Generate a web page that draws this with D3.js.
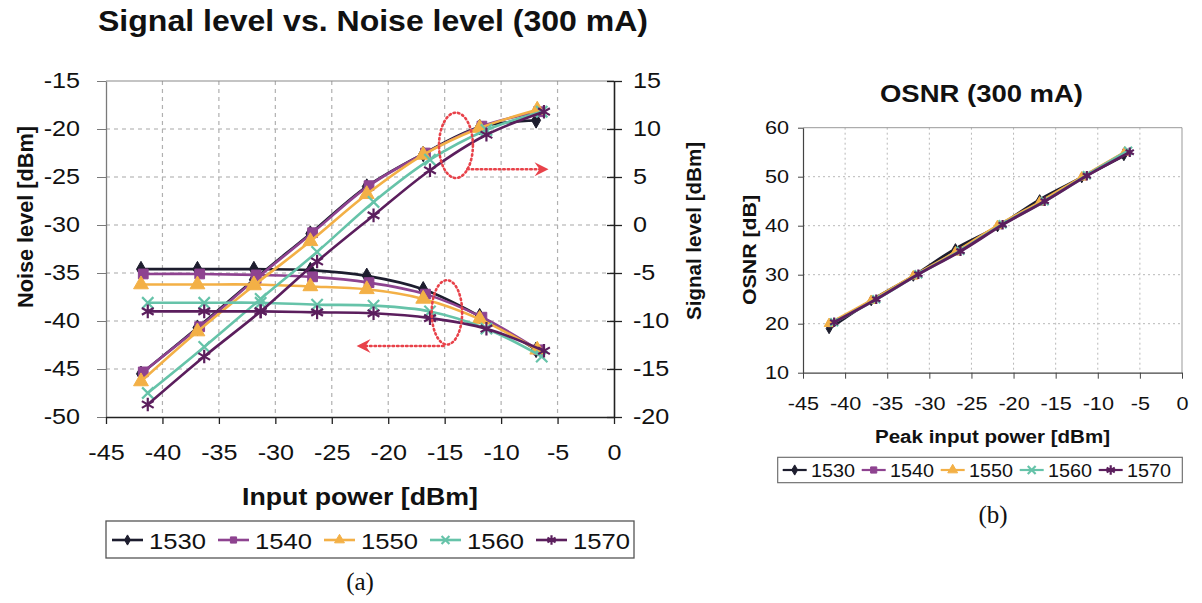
<!DOCTYPE html>
<html><head><meta charset="utf-8">
<script src="https://cdn.jsdelivr.net/npm/d3@7"></script>
<style>body{margin:0;background:#fff} svg{display:block}</style>
</head><body>
<svg id="c" width="1202" height="603"></svg>
<script>
// ---------------- DATA ----------------
const categories = ["1530", "1540", "1550", "1560", "1570"];
const colors = ["#1d1d2e", "#8e4390", "#f3b046", "#66c3a9", "#5b1e5d"];

const power1530 = [-41.9, -36.9, -31.9, -26.9, -21.9, -16.9, -11.9, -6.9];
const power1540 = [-41.7, -36.7, -31.7, -26.7, -21.7, -16.7, -11.7, -6.7];
const power1550 = [-41.9, -36.9, -31.9, -26.9, -21.9, -16.9, -11.9, -6.8];
const power1560 = [-41.3, -36.3, -31.3, -26.3, -21.3, -16.3, -11.3, -6.4];
const power1570 = [-41.3, -36.3, -31.3, -26.3, -21.3, -16.3, -11.3, -6.2];

const noise1530 = [-34.6, -34.6, -34.6, -34.7, -35.3, -36.7, -39.5, -43.0];
const noise1540 = [-35.1, -35.1, -35.2, -35.4, -36.0, -37.2, -39.6, -43.0];
const noise1550 = [-36.2, -36.2, -36.2, -36.4, -36.7, -37.7, -39.8, -43.0];
const noise1560 = [-38.1, -38.1, -38.1, -38.3, -38.4, -39.0, -40.8, -43.7];
const noise1570 = [-39.0, -39.0, -39.0, -39.1, -39.2, -39.7, -40.8, -43.1];

const signal1530 = [-15.5, -10.7, -5.7, -0.9, 4.0, 7.4, 10.2, 10.9];
const signal1540 = [-15.3, -10.6, -5.6, -0.8, 4.1, 7.5, 10.3, 11.8];
const signal1550 = [-16.3, -11.1, -6.3, -1.7, 3.2, 7.3, 10.1, 12.0];
const signal1560 = [-17.5, -12.7, -7.7, -2.8, 2.4, 6.8, 9.9, 11.8];
const signal1570 = [-18.7, -13.7, -9.0, -3.8, 1.0, 5.7, 9.4, 11.8];

const osnr1530 = [19.0, 24.7, 29.7, 35.3, 39.8, 45.3, 49.8, 54.3];
const osnr1540 = [20.0, 24.8, 29.8, 34.7, 40.0, 44.8, 50.0, 55.0];
const osnr1550 = [20.0, 24.7, 29.7, 34.6, 40.0, 44.8, 49.9, 55.0];
const osnr1560 = [20.3, 25.0, 30.1, 34.9, 40.3, 45.0, 50.3, 55.3];
const osnr1570 = [20.3, 25.0, 30.1, 34.8, 40.2, 45.0, 50.2, 55.0];

const xTicks = [-45, -40, -35, -30, -25, -20, -15, -10, -5, 0];
const noiseTicks = [-50, -45, -40, -35, -30, -25, -20, -15];
const signalTicks = [-20, -15, -10, -5, 0, 5, 10, 15];
const osnrTicks = [10, 20, 30, 40, 50, 60];

// annotation callouts (data coordinates): ellipse centre x, y, radii, arrow from x to x at y
const signalCallout = [-14.0, 8.3, 1.5, 3.4, -13.0, -5.8, 5.8];
const noiseCallout = [-14.8, -39.1, 1.35, 3.35, -15.1, -22.8, -42.6];

// ---------------- SETUP ----------------
const powers = [power1530, power1540, power1550, power1560, power1570];
const noises = [noise1530, noise1540, noise1550, noise1560, noise1570];
const signals = [signal1530, signal1540, signal1550, signal1560, signal1570];
const osnrs = [osnr1530, osnr1540, osnr1550, osnr1560, osnr1570];
const symTypes = [d3.symbolDiamond, d3.symbolSquare, d3.symbolTriangle, d3.symbolTimes, d3.symbolAsterisk];
const symFilled = [true, true, true, false, false];

const series = categories.map((c, i) => ({
  name: c, color: colors[i], sym: symTypes[i], filled: symFilled[i],
  noise: powers[i].map((p, j) => [p, noises[i][j]]),
  signal: powers[i].map((p, j) => [p, signals[i][j]]),
  osnr: powers[i].map((p, j) => [p, osnrs[i][j]])
}));

const FONT = "'Liberation Sans', Arial, Helvetica, sans-serif";
const SERIF = "'Liberation Serif', 'DejaVu Serif', serif";
const fmt = d => String(d);
const svg = d3.select("#c");
svg.append("rect").attr("width", 1202).attr("height", 603).attr("fill", "#fff");

function stretch(sel, sx) {
  sel.each(function () {
    const t = d3.select(this);
    const x = +t.attr("x") || 0;
    t.attr("x", x / sx).attr("transform", `scale(${sx},1)`);
  });
}
function symSize(i, big) {
  const s = big ? [70, 95, 95, 85, 130] : [30, 38, 42, 42, 62];
  return s[i];
}
function drawMarker(g, i, x, y, big) {
  const s = series[i];
  g.append("path")
    .attr("transform", `translate(${x},${y})`)
    .attr("d", d3.symbol().type(s.sym).size(symSize(i, big))())
    .attr("fill", s.filled ? s.color : "none")
    .attr("stroke", s.color)
    .attr("stroke-width", s.filled ? 1 : 2.2);
}

// ================= CHART (a) =================
const xA = d3.scaleLinear().domain([-45, 0]).range([106, 614]);
const yN = d3.scaleLinear().domain([-50, -15]).range([417, 81]);
const yS = d3.scaleLinear().domain([-20, 15]).range([417, 81]);

const gA = svg.append("g");
gA.append("g").selectAll("line").data(noiseTicks.filter(v => v > -50 && v < -15)).join("line")
  .attr("x1", xA(-45)).attr("x2", xA(0)).attr("y1", d => yN(d)).attr("y2", d => yN(d))
  .attr("stroke", "#a8a8a8").attr("stroke-width", 1.2).attr("stroke-dasharray", "4,4");
gA.append("g").selectAll("line").data(xTicks.filter(v => v > -45 && v < 0)).join("line")
  .attr("x1", d => xA(d)).attr("x2", d => xA(d)).attr("y1", yN(-15)).attr("y2", yN(-50))
  .attr("stroke", "#b0b0b0").attr("stroke-width", 1.2).attr("stroke-dasharray", "4,4");
gA.append("line").attr("x1", xA(-45)).attr("x2", xA(0)).attr("y1", yN(-15)).attr("y2", yN(-15))
  .attr("stroke", "#8a8a8a").attr("stroke-width", 1.2);

const axL = gA.append("g").attr("transform", `translate(${xA(-45)},0)`)
  .call(d3.axisLeft(yN).tickValues(noiseTicks).tickSize(9).tickPadding(17).tickSizeOuter(0).tickFormat(fmt));
axL.select(".domain").attr("stroke", "#7a7a7a").attr("stroke-width", 1.3);
axL.selectAll(".tick line").attr("stroke", "#7a7a7a");
axL.selectAll("text").attr("font-family", FONT).attr("font-size", 21.5).attr("fill", "#111");
stretch(axL.selectAll("text"), 1.17);

const axR = gA.append("g").attr("transform", `translate(${xA(0)},0)`)
  .call(d3.axisRight(yS).tickValues(signalTicks).tickSize(8).tickPadding(11).tickSizeOuter(0).tickFormat(fmt));
axR.select(".domain").attr("stroke", "#222").attr("stroke-width", 1.6);
axR.selectAll(".tick line").attr("x1", -7).attr("x2", 8).attr("stroke", "#222").attr("stroke-width", 1.3);
axR.selectAll("text").attr("font-family", FONT).attr("font-size", 21.5).attr("fill", "#111");
stretch(axR.selectAll("text"), 1.17);

const axB = gA.append("g").attr("transform", `translate(0,${yN(-50)})`)
  .call(d3.axisBottom(xA).tickValues(xTicks).tickSize(7).tickPadding(21).tickSizeOuter(0).tickFormat(fmt));
axB.select(".domain").attr("stroke", "#222").attr("stroke-width", 1.6);
axB.selectAll(".tick line").attr("stroke", "#222").attr("stroke-width", 1.3);
axB.selectAll("text").attr("font-family", FONT).attr("font-size", 21.5).attr("fill", "#111");
stretch(axB.selectAll("text"), 1.17);

const lineN = d3.line().x(d => xA(d[0])).y(d => yN(d[1])).curve(d3.curveCatmullRom.alpha(0.5));
const lineS = d3.line().x(d => xA(d[0])).y(d => yS(d[1])).curve(d3.curveCatmullRom.alpha(0.5));
series.forEach((s, i) => {
  const g = gA.append("g");
  g.append("path").attr("d", lineN(s.noise)).attr("fill", "none").attr("stroke", s.color).attr("stroke-width", 2.6);
  g.append("path").attr("d", lineS(s.signal)).attr("fill", "none").attr("stroke", s.color).attr("stroke-width", 2.6);
  s.noise.forEach(d => drawMarker(g, i, xA(d[0]), yN(d[1]), true));
  s.signal.forEach(d => drawMarker(g, i, xA(d[0]), yS(d[1]), true));
});

const red = "#e8424a";
function callout(c, yScale, dir) {
  const [cx, cy, rx, ry, ax1, ax2, ay] = c;
  const pxr = Math.abs(xA(cx + rx) - xA(cx));
  const pyr = Math.abs(yScale(cy + ry) - yScale(cy));
  gA.append("ellipse").attr("cx", xA(cx)).attr("cy", yScale(cy)).attr("rx", pxr).attr("ry", pyr)
    .attr("fill", "none").attr("stroke", red).attr("stroke-width", 2.6).attr("stroke-dasharray", "1.5,3")
    .attr("stroke-linecap", "round");
  const x1 = xA(ax1), x2 = xA(ax2), y = yScale(ay);
  gA.append("line").attr("x1", x1).attr("x2", x2 - dir * 8).attr("y1", y).attr("y2", y)
    .attr("stroke", red).attr("stroke-width", 2.6).attr("stroke-dasharray", "1.5,3").attr("stroke-linecap", "round");
  gA.append("path")
    .attr("d", `M${x2},${y} L${x2 - dir * 14},${y - 7} L${x2 - dir * 9},${y} L${x2 - dir * 14},${y + 7} Z`)
    .attr("fill", red);
}
callout(signalCallout, yS, 1);
callout(noiseCallout, yN, -1);

gA.append("text").attr("x", 98).attr("y", 31).attr("font-family", FONT).attr("font-weight", "bold")
  .attr("font-size", 29).attr("fill", "#111").attr("textLength", 550).attr("lengthAdjust", "spacingAndGlyphs")
  .text("Signal level vs. Noise level (300 mA)");
gA.append("text").attr("transform", "translate(33,217) rotate(-90)").attr("text-anchor", "middle")
  .attr("font-family", FONT).attr("font-weight", "bold").attr("font-size", 22).attr("fill", "#111")
  .attr("textLength", 182).attr("lengthAdjust", "spacingAndGlyphs").text("Noise level [dBm]");
gA.append("text").attr("transform", "translate(701,231) rotate(-90)").attr("text-anchor", "middle")
  .attr("font-family", FONT).attr("font-weight", "bold").attr("font-size", 20).attr("fill", "#111")
  .attr("textLength", 178).attr("lengthAdjust", "spacingAndGlyphs").text("Signal level [dBm]");
gA.append("text").attr("x", 360).attr("y", 505).attr("text-anchor", "middle")
  .attr("font-family", FONT).attr("font-weight", "bold").attr("font-size", 23).attr("fill", "#111")
  .attr("textLength", 236).attr("lengthAdjust", "spacingAndGlyphs").text("Input power [dBm]");

const legA = gA.append("g");
legA.append("rect").attr("x", 106).attr("y", 521).attr("width", 528).attr("height", 37)
  .attr("fill", "#fff").attr("stroke", "#555").attr("stroke-width", 1.3);
series.forEach((s, i) => {
  const x0 = 112 + i * 106;
  legA.append("line").attr("x1", x0).attr("x2", x0 + 31).attr("y1", 540).attr("y2", 540)
    .attr("stroke", s.color).attr("stroke-width", 2.6);
  drawMarker(legA, i, x0 + 15.5, 540, false);
  legA.append("text").attr("x", x0 + 37).attr("y", 549).attr("font-family", FONT).attr("font-size", 22)
    .attr("fill", "#111").attr("textLength", 57).attr("lengthAdjust", "spacingAndGlyphs").text(s.name);
});
gA.append("text").attr("x", 360).attr("y", 590).attr("text-anchor", "middle")
  .attr("font-family", SERIF).attr("font-size", 25).attr("fill", "#111").text("(a)");

// ================= CHART (b) =================
const xB = d3.scaleLinear().domain([-45, 0]).range([803, 1182]);
const yO = d3.scaleLinear().domain([10, 60]).range([372.7, 127.7]);
const gB = svg.append("g");

gB.append("g").selectAll("line").data(osnrTicks.filter(v => v > 10 && v < 60)).join("line")
  .attr("x1", xB(-45)).attr("x2", xB(0)).attr("y1", d => yO(d)).attr("y2", d => yO(d))
  .attr("stroke", "#b8b8b8").attr("stroke-width", 1).attr("stroke-dasharray", "2,3");
gB.append("g").selectAll("line").data(xTicks.filter(v => v > -45 && v < 0)).join("line")
  .attr("x1", d => xB(d)).attr("x2", d => xB(d)).attr("y1", yO(60)).attr("y2", yO(10))
  .attr("stroke", "#b8b8b8").attr("stroke-width", 1).attr("stroke-dasharray", "2,3");
gB.append("path").attr("d", `M${xB(-45)},${yO(60)} H${xB(0)} V${yO(10)}`)
  .attr("fill", "none").attr("stroke", "#999").attr("stroke-width", 1);

const bL = gB.append("g").attr("transform", `translate(${xB(-45)},0)`)
  .call(d3.axisLeft(yO).tickValues(osnrTicks).tickSize(5).tickPadding(9).tickSizeOuter(0).tickFormat(fmt));
bL.select(".domain").attr("stroke", "#444").attr("stroke-width", 1.2);
bL.selectAll(".tick line").attr("stroke", "#444");
bL.selectAll("text").attr("font-family", FONT).attr("font-size", 18.5).attr("fill", "#111");
stretch(bL.selectAll("text"), 1.17);

const bB = gB.append("g").attr("transform", `translate(0,${yO(10)})`)
  .call(d3.axisBottom(xB).tickValues(xTicks).tickSize(6).tickPadding(18).tickSizeOuter(0).tickFormat(fmt));
bB.select(".domain").attr("stroke", "#444").attr("stroke-width", 1.2);
bB.selectAll(".tick line").attr("stroke", "#444");
bB.selectAll("text").attr("font-family", FONT).attr("font-size", 18.5).attr("fill", "#111");
stretch(bB.selectAll("text"), 1.17);

const lineO = d3.line().x(d => xB(d[0])).y(d => yO(d[1])).curve(d3.curveCatmullRom.alpha(0.5));
series.forEach((s, i) => {
  const g = gB.append("g");
  g.append("path").attr("d", lineO(s.osnr)).attr("fill", "none").attr("stroke", s.color).attr("stroke-width", 3);
  s.osnr.forEach(d => drawMarker(g, i, xB(d[0]), yO(d[1]), false));
});

gB.append("text").attr("x", 880).attr("y", 102).attr("font-family", FONT).attr("font-weight", "bold")
  .attr("font-size", 24).attr("fill", "#111").attr("textLength", 203).attr("lengthAdjust", "spacingAndGlyphs")
  .text("OSNR (300 mA)");
gB.append("text").attr("transform", "translate(756,250) rotate(-90)").attr("text-anchor", "middle")
  .attr("font-family", FONT).attr("font-weight", "bold").attr("font-size", 19).attr("fill", "#111")
  .attr("textLength", 110).attr("lengthAdjust", "spacingAndGlyphs").text("OSNR [dB]");
gB.append("text").attr("x", 875).attr("y", 443).attr("font-family", FONT).attr("font-weight", "bold")
  .attr("font-size", 17.5).attr("fill", "#111").attr("textLength", 235).attr("lengthAdjust", "spacingAndGlyphs")
  .text("Peak input power [dBm]");

const legB = gB.append("g");
legB.append("rect").attr("x", 777.7).attr("y", 457.3).attr("width", 404.6).attr("height", 25.4)
  .attr("fill", "#fff").attr("stroke", "#666").attr("stroke-width", 1.1);
series.forEach((s, i) => {
  const x0 = 782.7 + i * 79;
  legB.append("line").attr("x1", x0).attr("x2", x0 + 24).attr("y1", 470).attr("y2", 470)
    .attr("stroke", s.color).attr("stroke-width", 2.2);
  drawMarker(legB, i, x0 + 12, 470, false);
  legB.append("text").attr("x", x0 + 28.3).attr("y", 476.5).attr("font-family", FONT).attr("font-size", 19)
    .attr("fill", "#111").attr("textLength", 44).attr("lengthAdjust", "spacingAndGlyphs").text(s.name);
});
gB.append("text").attr("x", 993).attr("y", 523).attr("text-anchor", "middle")
  .attr("font-family", SERIF).attr("font-size", 25).attr("fill", "#111").text("(b)");
</script>
</body></html>
